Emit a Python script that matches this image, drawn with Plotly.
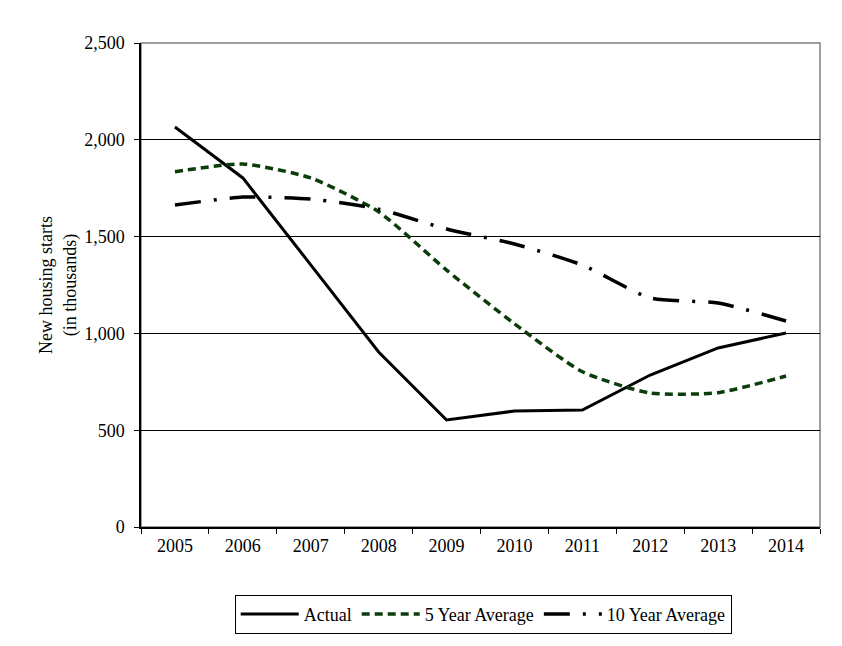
import plotly.graph_objects as go

years = ["2005", "2006", "2007", "2008", "2009", "2010", "2011", "2012", "2013", "2014"]
actual = [2066, 1803, 1354, 904, 553, 599, 604, 785, 925, 1002]
avg5 = [1835, 1875, 1803, 1628, 1327, 1050, 802, 692, 694, 780]
avg10 = [1663, 1704, 1694, 1642, 1539, 1462, 1353, 1183, 1157, 1064]

FONT = "Liberation Serif, Times New Roman, serif"

fig = go.Figure()
fig.add_trace(go.Scatter(x=years, y=actual, mode="lines", name="Actual",
                         line=dict(color="black", width=3)))
fig.add_trace(go.Scatter(x=years, y=avg5, mode="lines", name="5 Year Average",
                         line=dict(color="#0b3d0b", width=3.5, dash="8px,5px", shape="spline", smoothing=0.6)))
fig.add_trace(go.Scatter(x=years, y=avg10, mode="lines", name="10 Year Average",
                         line=dict(color="black", width=3.5, dash="26px,13px,3px,13px", shape="spline", smoothing=0.6)))

fig.add_shape(type="rect", xref="x domain", yref="y domain", x0=0, x1=1, y0=0, y1=1,
              line=dict(color="#808080", width=1.5), layer="below")

fig.update_layout(
    width=842, height=646,
    margin=dict(l=141, r=22, t=43, b=119),
    paper_bgcolor="white", plot_bgcolor="white",
    font=dict(family=FONT, size=18, color="black"),
    showlegend=True,
    legend=dict(orientation="h", x=0.504, xanchor="center", y=-0.14, yanchor="top",
                bordercolor="black", borderwidth=1, font=dict(family=FONT, size=18),
                tracegroupgap=0, itemwidth=58),
)
fig.update_xaxes(type="category", range=[-0.5, 9.5], showline=True, linecolor="black", linewidth=1.5,
                 ticks="outside", tickson="boundaries", ticklen=5, tickcolor="black",
                 showgrid=False, tickfont=dict(family=FONT, size=18), ticklabelstandoff=2)
fig.update_yaxes(range=[0, 2500], dtick=500, tickformat=",", showline=True, linecolor="black",
                 linewidth=1.5, ticks="outside", ticklen=5, tickcolor="black",
                 showgrid=True, gridcolor="black", gridwidth=1, zeroline=False,
                 tickfont=dict(family=FONT, size=18), ticklabelstandoff=6,
                 title=dict(text="New housing starts<br>(in thousands)", font=dict(family=FONT, size=18), standoff=3))

fig.write_html("out.html", config={"displayModeBar": False},
               post_script="document.body.style.margin='0';")
